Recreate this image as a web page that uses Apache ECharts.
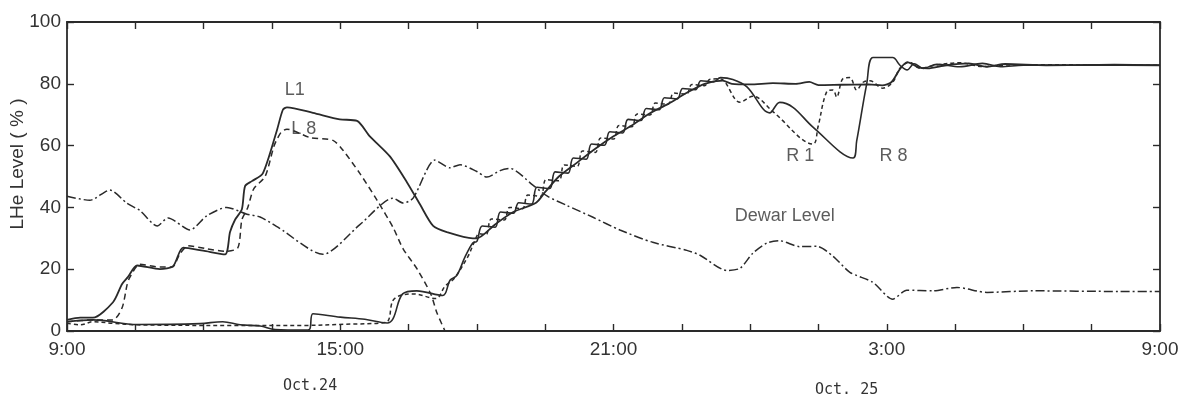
<!DOCTYPE html>
<html>
<head>
<meta charset="utf-8">
<script src="https://cdn.jsdelivr.net/npm/echarts@6/dist/echarts.min.js"></script>
<style>
  html, body { margin: 0; padding: 0; background: #fff; }
  #chart { width: 1190px; height: 405px; }
</style>
</head>
<body>
<div id="chart"></div>
<script>
// hours after 9:00 Oct.24 -> LHe level (%)
const xTickLabels = ['9:00', '15:00', '21:00', '3:00', '9:00'];
const yTicks = [0, 20, 40, 60, 80, 100];

const l1 = [[0, 3.6], [0.29, 4.3], [0.57, 4.3], [1.01, 9.3], [1.21, 15.2], [1.34, 17.5], [1.54, 21.2],
  [2.04, 20], [2.33, 21], [2.55, 27], [2.99, 26], [3.47, 24.8], [3.58, 32], [3.69, 36], [3.84, 39.4],
  [3.91, 46.9], [4.06, 48.5], [4.3, 51], [4.61, 65], [4.74, 71.6], [4.83, 72.4], [5.4, 70.6], [5.99, 68.5],
  [6.37, 68], [6.65, 63], [7.09, 56.5], [7.47, 48], [7.75, 41], [8.04, 34], [8.34, 32], [8.91, 30],
  [9.0, 30], [9.4, 34.5], [9.8, 38.5], [10.3, 41.5], [10.5, 45], [10.8, 50], [11.2, 54.5], [11.6, 59],
  [12.0, 63], [12.4, 66.5], [12.8, 70.5], [13.2, 73.5], [13.6, 77], [14.0, 80], [14.4, 81], [14.6, 80],
  [15.0, 79.8], [15.5, 80.2], [16.0, 80], [16.3, 80.6], [16.5, 79.6], [17.0, 79.7], [17.6, 79.8],
  [17.9, 79.5], [18.1, 80.5], [18.3, 85], [18.45, 87], [18.7, 85.3], [18.9, 85], [19.3, 86], [19.8, 86.6],
  [20.2, 85.5], [20.6, 86.4], [21.5, 86], [22.5, 86.1], [24, 86]];

const l8 = [[0, 3], [0.57, 3.6], [1.01, 3.6], [1.21, 7.5], [1.32, 15], [1.38, 17.4], [1.6, 21.6],
  [2.04, 20.7], [2.31, 20.7], [2.48, 25], [2.66, 27.6], [3.07, 26.6], [3.47, 25.8], [3.75, 26.9],
  [3.84, 36], [3.97, 40], [4.1, 46], [4.35, 50], [4.55, 60], [4.7, 64.3], [4.83, 65.3], [5.34, 62.6],
  [5.84, 61.7], [6.06, 58.5], [6.43, 51], [6.81, 42.3], [7.16, 33.5], [7.38, 26.6], [7.69, 20],
  [7.99, 11.9], [8.12, 6], [8.3, 0]];

const rSolid = [[0, 3], [0.57, 3.6], [1.54, 2.1], [2.92, 2.4], [3.42, 3], [3.8, 2], [4.24, 1.6],
  [4.57, 0.5], [5.23, 0.3], [5.33, 0.6], [5.4, 5.6], [6.0, 4.5], [6.54, 3.8], [7.03, 2.6], [7.16, 4],
  [7.37, 12], [7.68, 13], [8.25, 11.5], [8.41, 16.4], [8.56, 18], [8.74, 24], [8.91, 28.5],
  [9.0, 29], [9.12, 34], [9.4, 33.6], [9.52, 38.5], [9.8, 38.1], [9.92, 41.5], [10.2, 41.1],
  [10.32, 46.5], [10.6, 46.1], [10.72, 51.5], [11.0, 51.1], [11.12, 56], [11.4, 55.6], [11.52, 60.5],
  [11.8, 60.1], [11.92, 64.5], [12.2, 64.1], [12.32, 68.5], [12.6, 68.1], [12.72, 72], [13.0, 71.6],
  [13.12, 75.5], [13.4, 75.1], [13.52, 78.5], [13.8, 78.1], [13.92, 81], [14.2, 80.6], [14.35, 82],
  [14.62, 81.4], [14.93, 79], [15.43, 70.6], [15.65, 74], [15.94, 72.4],
  [16.38, 66], [17.26, 56], [17.34, 61.5], [17.56, 80], [17.7, 88.5], [18.13, 88.5], [18.29, 86],
  [18.45, 84.5], [18.6, 86.5], [18.8, 85], [19.1, 86.3], [19.6, 85.5], [20.1, 86.6], [20.5, 85.5],
  [21, 86], [22, 86], [23, 86.2], [24, 86]];

const rDash = [[0, 2.5], [0.3, 2], [0.57, 3], [1.0, 2.5], [1.54, 2], [3.65, 1.8], [5.2, 1.8], [6.1, 2.2],
  [7.0, 2.8], [7.15, 9.7], [7.3, 11.4], [7.6, 12], [8.1, 10.5], [8.3, 14.5], [8.5, 17], [8.8, 24],
  [8.95, 29], [9.05, 31.5], [9.2, 31.2], [9.32, 36.25], [9.6, 35.9], [9.72, 40], [10.0, 39.6],
  [10.12, 44], [10.4, 43.6], [10.52, 49], [10.8, 48.6], [10.92, 53.75], [11.2, 53.3], [11.32, 58.25],
  [11.6, 57.8], [11.72, 62.5], [12.0, 62.1], [12.12, 66.5], [12.4, 66.1], [12.52, 70.25], [12.8, 69.9],
  [12.92, 73.75], [13.2, 73.4], [13.32, 77], [13.6, 76.6], [13.72, 79.75], [14.0, 79.4], [14.12, 81.5],
  [14.34, 81.6], [14.78, 74], [15.06, 76], [15.5, 71], [16.38, 60.5], [16.49, 66], [16.68, 77.4],
  [16.82, 78], [16.9, 75.7], [17.04, 81.7], [17.19, 82], [17.34, 78], [17.48, 80.5], [17.63, 81],
  [17.91, 78.6], [18.13, 80.5], [18.29, 85], [18.5, 87], [18.73, 85], [19.06, 86], [19.6, 86.8],
  [20.1, 85.6], [20.5, 86], [21.5, 86.2], [23, 86], [24, 86]];

const dewar = [[0, 43.6], [0.5, 42.3], [0.94, 45.6], [1.32, 41.3], [1.6, 39], [1.98, 34], [2.22, 36.6],
  [2.7, 32.7], [3.07, 37.3], [3.51, 40], [3.95, 37.8], [4.24, 36.9], [4.63, 33.6], [5.62, 24.8],
  [6.43, 34.4], [7.16, 43], [7.38, 41.4], [7.6, 43], [8.08, 55.3], [8.41, 52.8], [8.63, 53.8], [9.0, 51.6],
  [9.22, 49.8], [9.51, 51.9], [9.73, 52.6], [10.23, 47.2], [10.54, 43.7], [10.98, 40.6], [11.55, 36.8],
  [12.14, 32.7], [12.86, 28.7], [13.61, 26.1], [13.9, 24.5], [14.49, 19.6], [14.78, 20.3], [15.06, 25.2],
  [15.37, 28.5], [15.65, 29.2], [16.09, 27.3], [16.47, 27.4], [16.82, 24.2], [17.19, 19], [17.69, 15.8],
  [18.13, 10.3], [18.44, 13.2], [19.01, 13], [19.54, 14.1], [20.2, 12.5], [21.21, 13], [23.12, 12.8], [24, 12.8]];

const curveLabels = [
  { name: 'L1', value: [5.0, 78] },
  { name: 'L 8', value: [5.2, 65.5] },
  { name: 'R 1', value: [16.1, 56.5] },
  { name: 'R 8', value: [18.15, 56.5] },
  { name: 'Dewar Level', value: [15.76, 37.2] }
];

const INK = '#2a2a2a';
const FONT = 'Liberation Sans, Arial, sans-serif';

function lineSeries(data, type, width, smooth) {
  return {
    type: 'line', data, showSymbol: false, smooth: smooth,
    lineStyle: { color: INK, width: width, type: type },
    z: 3
  };
}

const chart = echarts.init(document.getElementById('chart'), null, { renderer: 'canvas' });

const tickStyle = { show: true, inside: true, length: 7, lineStyle: { color: INK, width: 1.4 } };
const axisLineStyle = { show: true, onZero: false, lineStyle: { color: INK, width: 1.8 } };

chart.setOption({
  animation: false,
  backgroundColor: '#fff',
  grid: { left: 67, right: 30, top: 22, bottom: 74 },
  xAxis: [{
    type: 'value', min: 0, max: 24, interval: 1.5,
    axisLine: axisLineStyle, axisTick: tickStyle, splitLine: { show: false },
    axisLabel: {
      color: '#333', fontSize: 19, fontFamily: FONT, margin: 9,
      formatter: v => (v % 6 === 0 ? xTickLabels[v / 6] : '')
    }
  }, {
    type: 'value', position: 'top', min: 0, max: 24, interval: 1.5,
    axisLine: axisLineStyle, axisTick: tickStyle, splitLine: { show: false }, axisLabel: { show: false }
  }],
  yAxis: [{
    type: 'value', min: 0, max: 100, interval: 20,
    axisLine: axisLineStyle, axisTick: tickStyle, splitLine: { show: false },
    axisLabel: { color: '#333', fontSize: 19, fontFamily: FONT, margin: 6, formatter: v => (yTicks.includes(v) ? String(v) : '') }
  }, {
    type: 'value', position: 'right', min: 0, max: 100, interval: 20,
    axisLine: axisLineStyle, axisTick: tickStyle, splitLine: { show: false }, axisLabel: { show: false }
  }],
  series: [
    lineSeries(dewar, [9, 3, 2, 3], 1.5, 0.25),
    lineSeries(l8, [6, 4], 1.5, 0.25),
    lineSeries(rDash, [4, 3], 1.5, 0.35),
    lineSeries(rSolid, 'solid', 1.6, 0.35),
    lineSeries(l1, 'solid', 1.8, 0.25),
    {
      type: 'scatter', data: curveLabels, symbolSize: 0, silent: true,
      label: { show: true, formatter: p => p.name, color: '#333', fontSize: 18, fontFamily: FONT, position: 'inside' }
    }
  ],
  graphic: [
    {
      type: 'text', x: 18, y: 164, rotation: Math.PI / 2,
      style: { text: 'LHe Level ( % )', font: '19px "Liberation Sans", Arial, sans-serif', fill: '#333', align: 'center', verticalAlign: 'middle' }
    },
    { type: 'text', left: 283, top: 379, style: { text: 'Oct.24', font: '15px "DejaVu Sans Mono", monospace', fill: '#333' } },
    { type: 'text', left: 815, top: 383, style: { text: 'Oct. 25', font: '15px "DejaVu Sans Mono", monospace', fill: '#333' } }
  ]
});
</script>
</body>
</html>
